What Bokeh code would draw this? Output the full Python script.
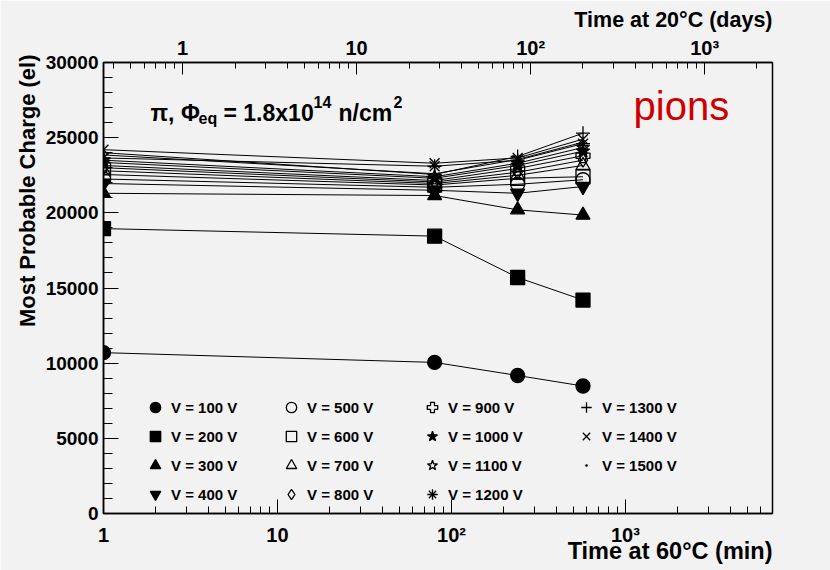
from bokeh.plotting import figure
from bokeh.models import (Range1d, LogScale, LogAxis, LogTicker, SingleIntervalTicker,
                          CustomJSTickFormatter, Label, Legend, LegendItem, Title)
from bokeh.embed import file_html
from bokeh.resources import INLINE

# ---- data ----
time_min = [1, 80, 240, 570]
voltages = [100, 200, 300, 400, 500, 600, 700, 800, 900, 1000, 1100, 1200, 1300, 1400, 1500]
v100 = [10700, 10050, 9180, 8480]
v200 = [18950, 18450, 15700, 14200]
v300 = [21300, 21150, 20200, 19850]
v400 = [21950, 21500, 21300, 21750]
v500 = [22250, 21700, 21900, 22200]
v600 = [22550, 21850, 22300, 22400]
v700 = [22800, 21950, 22500, 23150]
v800 = [23000, 22050, 22700, 23500]
v900 = [23150, 22150, 22950, 23800]
v1000 = [23350, 22300, 23150, 24100]
v1100 = [23500, 22400, 23300, 24350]
v1200 = [23650, 23100, 23500, 24600]
v1300 = [24000, 22550, 23750, 25300]
v1400 = [24200, 23300, 23650, 24900]
v1500 = [23850, 22600, 23550, 24700]
series = [v100, v200, v300, v400, v500, v600, v700, v800, v900, v1000,
          v1100, v1200, v1300, v1400, v1500]
min_per_day = 2.85   # 60C minutes equivalent to one day at 20C

# ---- styles ----
marker_style = [
    ("circle", True), ("square", True), ("triangle", True), ("inverted_triangle", True),
    ("circle", False), ("square", False), ("triangle", False), ("diamond", False),
    ("plus", False), ("star", True), ("star", False), ("asterisk", False),
    ("cross", False), ("x", False), ("dot", False),
]

BG = "#f2f2f2"
FONT = "Liberation Sans"

x0, x1 = 1, 7000
p = figure(width=830, height=570, x_axis_type="log",
           x_range=Range1d(x0, x1), y_range=Range1d(0, 30000),
           output_backend="svg", toolbar_location=None,
           min_border_left=103, min_border_right=58,
           min_border_top=62, min_border_bottom=57)
p.background_fill_color = BG
p.border_fill_color = BG
p.outline_line_color = "black"
p.outline_line_width = 1.5
p.grid.visible = False

fmt = CustomJSTickFormatter(code="""
const e = Math.round(Math.log10(tick));
const sup = {2: "\\u00b2", 3: "\\u00b3", 4: "\\u2074"};
if (e <= 0) return "1";
if (e == 1) return "10";
return "10" + sup[e];
""")

def style_axis(ax, label_size, tin, min_in, standoff):
    ax.axis_line_color = "black"
    ax.axis_line_width = 1.5
    ax.major_tick_line_color = "black"
    ax.minor_tick_line_color = "black"
    ax.major_tick_in = tin
    ax.major_tick_out = 0
    ax.minor_tick_in = min_in
    ax.minor_tick_out = 0
    ax.major_label_text_font = FONT
    ax.major_label_text_font_style = "bold"
    ax.major_label_text_font_size = label_size
    ax.major_label_text_color = "black"
    ax.major_label_standoff = standoff

xb = p.xaxis[0]
xb.ticker = LogTicker(num_minor_ticks=10)
xb.formatter = fmt
style_axis(xb, "20px", 14, 7, 10)

yl = p.yaxis[0]
yl.ticker = SingleIntervalTicker(interval=5000, num_minor_ticks=5)
style_axis(yl, "19px", 15, 9, 5)

p.extra_x_ranges = {"days": Range1d(x0 / min_per_day, x1 / min_per_day)}
p.extra_x_scales = {"days": LogScale()}
top = LogAxis(x_range_name="days", ticker=LogTicker(num_minor_ticks=10), formatter=fmt)
style_axis(top, "20px", 12, 6, 4)
p.add_layout(top, "above")

# ---- axis titles (ROOT style, aligned to the axis end) ----
p.add_layout(Title(text="Time at 60\u00b0C (min)", align="right", vertical_align="top",
                   text_font=FONT, text_color="black", text_font_style="bold",
                   text_font_size="23.5px", standoff=-22), "below")
p.add_layout(Title(text="Time at 20\u00b0C (days)", align="right", text_font=FONT,
                   text_color="black", text_font_style="bold", text_font_size="21.5px",
                   standoff=3), "above")
p.add_layout(Title(text="Most Probable Charge (el)", align="right", text_font=FONT,
                   text_color="black", text_font_style="bold", text_font_size="22px",
                   standoff=6, offset=-8), "left")

# ---- data glyphs ----
scatters = []
for vals in series:
    p.line(time_min, vals, line_color="black", line_width=1)
for vals, (mk, filled) in zip(series, marker_style):
    sz = 14 if mk != "dot" else 12
    r = p.scatter(time_min, vals, marker=mk, size=sz,
                  fill_color="black" if filled else None,
                  line_color="black", line_width=1.3)
    scatters.append(r)

# ---- legends (4 columns) ----
cols = [[0, 1, 2, 3], [4, 5, 6, 7], [8, 9, 10, 11], [12, 13, 14]]
locs = [(39, 6), (175, 6), (316, 6), (470, 35)]
for col, loc in zip(cols, locs):
    items = [LegendItem(label=f"V = {voltages[i]} V", renderers=[scatters[i]]) for i in col]
    leg = Legend(items=items, location=loc, orientation="vertical",
                 glyph_width=26, glyph_height=26, label_height=26, spacing=3,
                 label_standoff=3, padding=0, margin=0,
                 border_line_color=None, background_fill_alpha=0,
                 label_text_font=FONT, label_text_font_style="bold",
                 label_text_font_size="15px", label_text_color="black")
    p.add_layout(leg, "center")

# ---- texts inside the frame (screen units relative to frame: x from left=103, y from bottom=513) ----
FL, FB = 103, 513

def add_label(text, cx, cy, size, style="bold", color="black", align="left"):
    p.add_layout(Label(x=cx - FL, y=FB - cy, x_units="screen", y_units="screen",
                       text=text, text_font=FONT, text_font_style=style,
                       text_font_size=size, text_color=color, text_align=align,
                       text_baseline="alphabetic"))

add_label("pions", 633, 105, "40px", style="normal", color="#cc0000")

add_label("\u03c0, \u03a6", 150, 112, "23px")
add_label("eq", 198, 118, "16px")
add_label("= 1.8x10", 223, 112, "23px")
add_label("14", 313, 101, "16px")
add_label("n/cm", 338, 112, "23px")
add_label("2", 393, 101, "16px")

open("out.html", "w").write(file_html(p, INLINE))
